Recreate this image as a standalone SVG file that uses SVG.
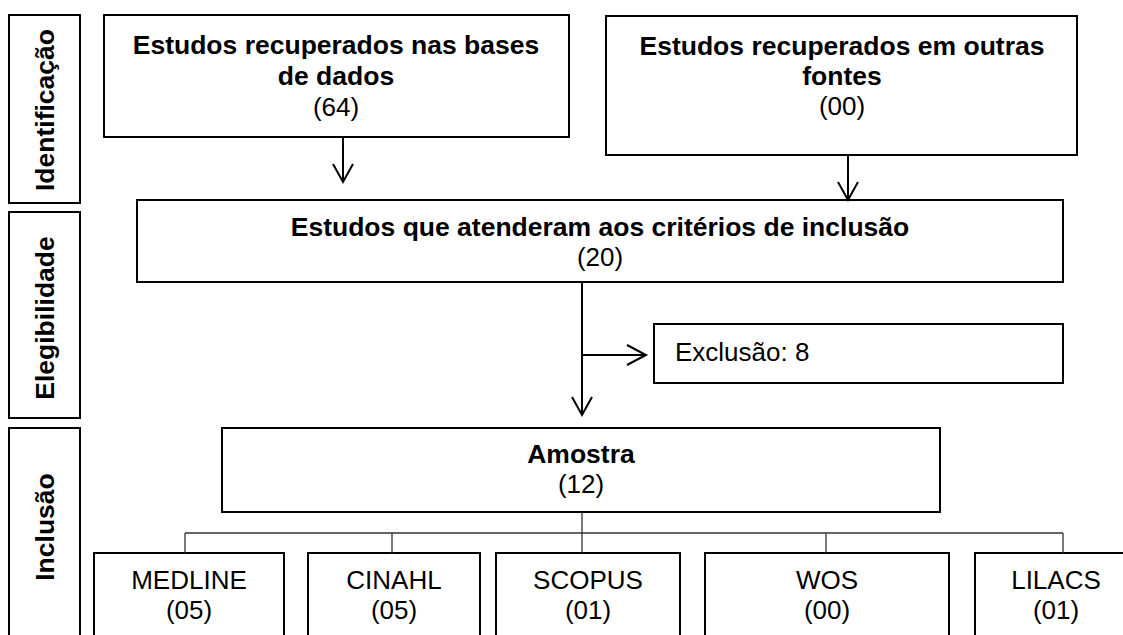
<svg xmlns="http://www.w3.org/2000/svg" width="1123" height="635" viewBox="0 0 1123 635">
<style>
.box{fill:#fff;stroke:#000;stroke-width:2}
.t{font-family:"Liberation Sans",Arial,sans-serif;font-size:26px;fill:#000;text-anchor:middle}
.b{font-weight:bold;font-size:26.5px}
.c{fill:none;stroke:#000;stroke-width:2}
.thin{fill:none;stroke:#333;stroke-width:1.3}
.ah{fill:none;stroke:#000;stroke-width:2}
</style>
<rect width="1123" height="635" fill="#fff"/>
<g id="stage-identificacao">
<rect class="box" x="9" y="15" width="71" height="188"/>
<text class="t b" transform="translate(54,110) rotate(-90)">Identificação</text>
</g>
<g id="stage-elegibilidade">
<rect class="box" x="9" y="212" width="71" height="206"/>
<text class="t b" transform="translate(54,318) rotate(-90)">Elegibilidade</text>
</g>
<g id="stage-inclusao">
<rect class="box" x="9" y="428" width="71" height="215"/>
<text class="t b" transform="translate(54,527) rotate(-90)">Inclusão</text>
</g>
<g id="node-bases">
<rect class="box" x="104" y="15" width="465" height="122"/>
<text class="t b" x="336" y="54">Estudos recuperados nas bases</text>
<text class="t b" x="336" y="85">de dados</text>
<text class="t" x="336" y="116">(64)</text>
</g>
<g id="node-outras">
<rect class="box" x="606" y="16" width="471" height="139"/>
<text class="t b" x="842" y="55">Estudos recuperados em outras</text>
<text class="t b" x="842" y="85">fontes</text>
<text class="t" x="842" y="115">(00)</text>
</g>
<g id="node-criterios">
<rect class="box" x="137" y="200" width="926" height="82"/>
<text class="t b" x="600" y="236">Estudos que atenderam aos critérios de inclusão</text>
<text class="t" x="600" y="266">(20)</text>
</g>
<g id="node-exclusao">
<rect class="box" x="654" y="324" width="409" height="59"/>
<text class="t" x="675" y="361" style="text-anchor:start">Exclusão: 8</text>
</g>
<g id="node-amostra">
<rect class="box" x="222" y="428" width="718" height="84"/>
<text class="t b" x="581" y="463">Amostra</text>
<text class="t" x="581" y="493">(12)</text>
</g>
<g id="node-medline">
<rect class="box" x="94" y="553" width="190" height="100"/>
<text class="t" x="189" y="589">MEDLINE</text>
<text class="t" x="189" y="619">(05)</text>
</g>
<g id="node-cinahl">
<rect class="box" x="308" y="553" width="172" height="100"/>
<text class="t" x="394" y="589">CINAHL</text>
<text class="t" x="394" y="619">(05)</text>
</g>
<g id="node-scopus">
<rect class="box" x="496" y="553" width="184" height="100"/>
<text class="t" x="588" y="589">SCOPUS</text>
<text class="t" x="588" y="619">(01)</text>
</g>
<g id="node-wos">
<rect class="box" x="705" y="553" width="244" height="100"/>
<text class="t" x="827" y="589">WOS</text>
<text class="t" x="827" y="619">(00)</text>
</g>
<g id="node-lilacs">
<rect class="box" x="975" y="553" width="165" height="100"/>
<text class="t" x="1056" y="589">LILACS</text>
<text class="t" x="1056" y="619">(01)</text>
</g>
<g id="connectors">
<line class="c" x1="343" y1="137" x2="343" y2="182"/>
<polyline class="ah" points="333,164 343,182 353,164"/>
<line class="c" x1="848" y1="155" x2="848" y2="200"/>
<polyline class="ah" points="838,182 848,200 858,182"/>
<line class="c" x1="582" y1="282" x2="582" y2="415"/>
<polyline class="ah" points="572,397 582,415 592,397"/>
<line class="c" x1="582" y1="355" x2="646" y2="355"/>
<polyline class="ah" points="627,345 646,355 627,365"/>
<line class="thin" x1="582" y1="512" x2="582" y2="553"/>
<line class="thin" x1="185" y1="533" x2="1063" y2="533"/>
<line class="thin" x1="185" y1="533" x2="185" y2="553"/>
<line class="thin" x1="392" y1="533" x2="392" y2="553"/>
<line class="thin" x1="826" y1="533" x2="826" y2="553"/>
<line class="thin" x1="1063" y1="533" x2="1063" y2="553"/>
</g>
</svg>
